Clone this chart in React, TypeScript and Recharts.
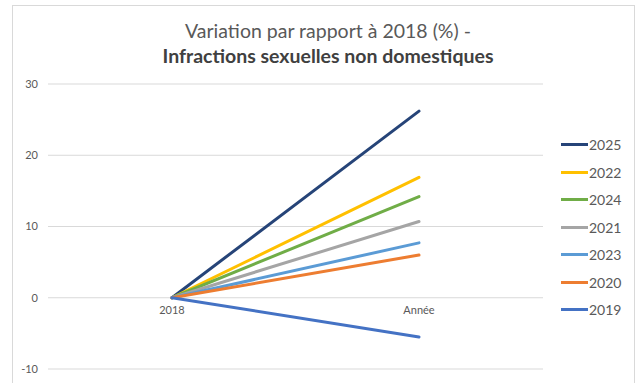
import React from "react";
import {
  LineChart,
  Line,
  XAxis,
  YAxis,
  CartesianGrid,
  ReferenceDot,
} from "recharts";

// Variation vs 2018 (%) for each year, read at the two category points
const categories = ["2018", "Année"];
const v2025 = [0, 26.2];
const v2022 = [0, 16.9];
const v2024 = [0, 14.2];
const v2021 = [0, 10.7];
const v2023 = [0, 7.7];
const v2020 = [0, 6.0];
const v2019 = [0, -5.5];
const yTicks = [-10, 0, 10, 20, 30];

const series = [
  { key: "2025", values: v2025, color: "#264478" },
  { key: "2022", values: v2022, color: "#FFC000" },
  { key: "2024", values: v2024, color: "#70AD47" },
  { key: "2021", values: v2021, color: "#A5A5A5" },
  { key: "2023", values: v2023, color: "#5B9BD5" },
  { key: "2020", values: v2020, color: "#ED7D31" },
  { key: "2019", values: v2019, color: "#4472C4" },
];

const data = categories.map((cat, i) => {
  const row: Record<string, string | number> = { cat };
  series.forEach((s) => {
    row[s.key] = s.values[i];
  });
  return row;
});

const FONT = "Lato, 'Open Sans', sans-serif";

function LegendBox() {
  return (
    <div style={{ position: "absolute", left: 561, top: 131 }}>
      {series.map((s) => (
        <div
          key={s.key}
          style={{ display: "flex", alignItems: "center", height: 27.5 }}
        >
          <div style={{ width: 27, height: 3, background: s.color }} />
          <span
            style={{
              marginLeft: 1,
              fontFamily: FONT,
              fontSize: 14,
              color: "#595959",
            }}
          >
            {s.key}
          </span>
        </div>
      ))}
    </div>
  );
}

export default function App() {
  return (
    <div
      style={{
        position: "absolute",
        left: 0,
        top: 0,
        width: 637,
        height: 383,
        overflow: "hidden",
        background: "#fff",
      }}
    >
      <div
        style={{
          position: "absolute",
          left: 12,
          top: 5,
          width: 621,
          height: 400,
          border: "1px solid #d9d9d9",
        }}
      />
      <div
        style={{
          position: "absolute",
          left: 128,
          top: 18,
          width: 400,
          textAlign: "center",
          fontFamily: FONT,
          fontSize: 19.5,
          lineHeight: "25px",
          color: "#595959",
        }}
      >
        <div>Variation par rapport à 2018 (%) -</div>
        <div style={{ fontWeight: 700, color: "#404040" }}>
          Infractions sexuelles non domestiques
        </div>
      </div>
      <div style={{ position: "absolute", left: 0, top: 0 }}>
        <LineChart
          width={637}
          height={383}
          data={data}
          margin={{ top: 84, right: 94, left: 12, bottom: 14 }}
        >
          <CartesianGrid vertical={false} stroke="#d9d9d9" />
          <XAxis
            dataKey="cat"
            hide
            padding={{ left: 124, right: 124 }}
          />
          <YAxis
            width={36}
            domain={[-10, 30]}
            ticks={yTicks}
            axisLine={false}
            tickLine={false}
            tickMargin={4}
            tick={{ fill: "#595959", fontSize: 11, fontFamily: FONT }}
          />
          {series.map((s) => (
            <Line
              key={s.key}
              dataKey={s.key}
              type="linear"
              stroke={s.color}
              strokeWidth={3}
              strokeLinecap="round"
              dot={false}
              isAnimationActive={false}
            />
          ))}
          {categories.map((cat) => (
            <ReferenceDot
              key={cat}
              x={cat}
              y={0}
              r={0}
              fill="none"
              stroke="none"
              label={{
                value: cat,
                position: "bottom",
                offset: 8,
                fill: "#595959",
                fontSize: 11,
                fontFamily: FONT,
              }}
            />
          ))}
        </LineChart>
      </div>
      <LegendBox />
    </div>
  );
}
